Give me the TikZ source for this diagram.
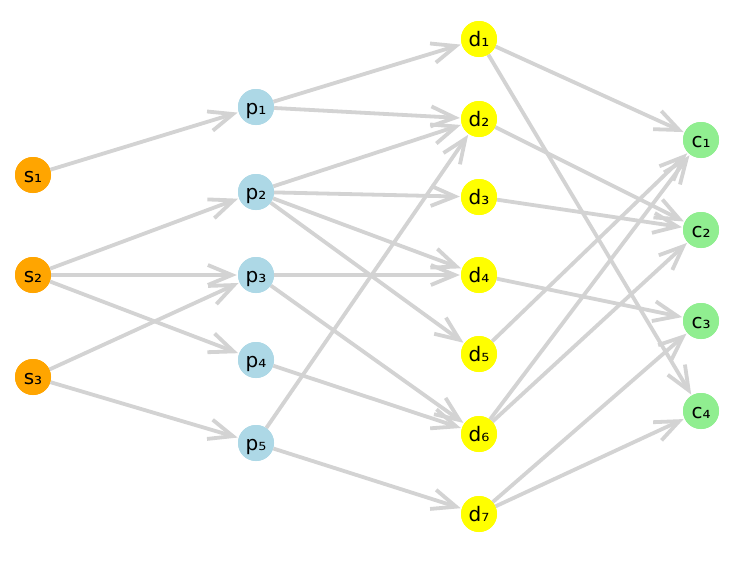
\documentclass[tikz,border=0pt]{standalone}
\usepackage{fontspec}
\setmainfont{DejaVu Sans}
\usetikzlibrary{arrows.meta}
\definecolor{sorange}{HTML}{FFA500}
\definecolor{pblue}{HTML}{ADD8E6}
\definecolor{dyellow}{HTML}{FFFF00}
\definecolor{cgreen}{HTML}{90EE90}
\definecolor{edgegray}{HTML}{D3D3D3}
\tikzset{
  vtx/.style={circle, minimum size=36pt, inner sep=0pt, font=\fontsize{20}{20}\selectfont, text=black, text height=15pt, text depth=0pt},
  snode/.style={vtx, fill=sorange},
  pnode/.style={vtx, fill=pblue},
  dnode/.style={vtx, fill=dyellow},
  cnode/.style={vtx, fill=cgreen},
  edge/.style={draw=edgegray, line width=3.8pt, -{Straight Barb[length=24pt,width=20pt,line width=3.8pt]}, shorten >=1pt}
}
\begin{document}
\begin{tikzpicture}[x=1pt,y=-1pt]
\useasboundingbox (0,0) rectangle (749,562);
\fill[white] (0,0) rectangle (749,562);
% nodes
\node[snode] (s1) at (33,175) {s₁};
\node[snode] (s2) at (33,275) {s₂};
\node[snode] (s3) at (33,377) {s₃};
\node[pnode] (p1) at (256,107) {p₁};
\node[pnode] (p2) at (256,192) {p₂};
\node[pnode] (p3) at (256,275) {p₃};
\node[pnode] (p4) at (256,360) {p₄};
\node[pnode] (p5) at (256,443) {p₅};
\node[dnode] (d1) at (479,39) {d₁};
\node[dnode] (d2) at (479,119) {d₂};
\node[dnode] (d3) at (479,197) {d₃};
\node[dnode] (d4) at (479,275) {d₄};
\node[dnode] (d5) at (479,354) {d₅};
\node[dnode] (d6) at (479,434) {d₆};
\node[dnode] (d7) at (479,514) {d₇};
\node[cnode] (c1) at (701,140) {c₁};
\node[cnode] (c2) at (701,230) {c₂};
\node[cnode] (c3) at (701,321) {c₃};
\node[cnode] (c4) at (701,411) {c₄};
% edges
\foreach \a/\b in {s1/p1,s2/p2,s2/p3,s2/p4,s3/p3,s3/p5,
  p1/d1,p1/d2,p2/d2,p2/d3,p2/d4,p2/d5,p3/d4,p3/d6,p4/d6,p5/d2,p5/d7,
  d1/c1,d1/c4,d2/c2,d3/c2,d4/c3,d5/c1,d6/c1,d6/c2,d7/c3,d7/c4}
  \draw[edge] (\a) -- (\b);
% redraw nodes on top
\node[snode] at (s1) {s₁};
\node[snode] at (s2) {s₂};
\node[snode] at (s3) {s₃};
\node[pnode] at (p1) {p₁};
\node[pnode] at (p2) {p₂};
\node[pnode] at (p3) {p₃};
\node[pnode] at (p4) {p₄};
\node[pnode] at (p5) {p₅};
\node[dnode] at (d1) {d₁};
\node[dnode] at (d2) {d₂};
\node[dnode] at (d3) {d₃};
\node[dnode] at (d4) {d₄};
\node[dnode] at (d5) {d₅};
\node[dnode] at (d6) {d₆};
\node[dnode] at (d7) {d₇};
\node[cnode] at (c1) {c₁};
\node[cnode] at (c2) {c₂};
\node[cnode] at (c3) {c₃};
\node[cnode] at (c4) {c₄};
\end{tikzpicture}
\end{document}
